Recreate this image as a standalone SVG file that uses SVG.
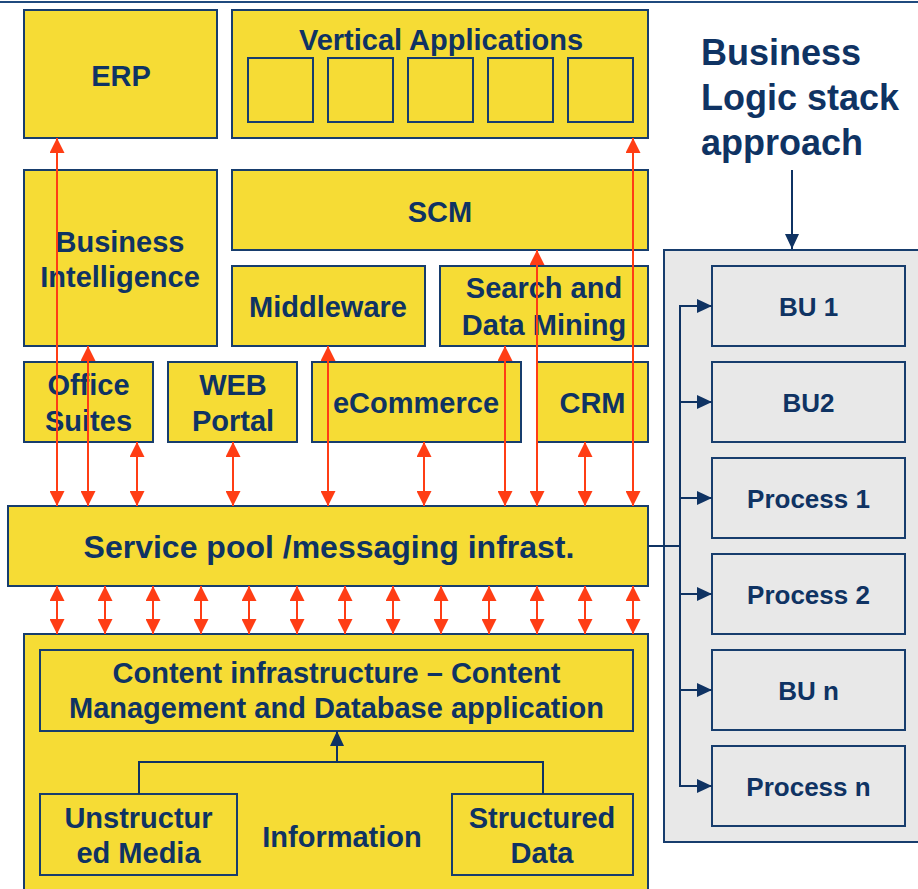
<svg xmlns="http://www.w3.org/2000/svg" width="918" height="889" viewBox="0 0 918 889">
<style>
.box{fill:#F6DC35;stroke:#173D6D;stroke-width:2}
.gbox{fill:#E8E8E8;stroke:#173D6D;stroke-width:2}
.t{font-family:"Liberation Sans",Arial,sans-serif;font-weight:bold;fill:#0F3363;text-anchor:middle;font-size:29px}
.ts{font-size:32px}
.tr{font-size:26px}
.tb{text-anchor:start;font-size:36px}
.red{stroke:#FF3D14;stroke-width:2;fill:none;marker-start:url(#ra);marker-end:url(#ra)}
.nav{stroke:#0F3363;stroke-width:2;fill:none}
</style>
<defs>
<marker id="ra" viewBox="0 0 15 15" refX="15" refY="7.5" markerWidth="15" markerHeight="15" markerUnits="userSpaceOnUse" orient="auto-start-reverse"><path d="M0,0 L15,7.5 L0,15 z" fill="#FF3D14"/></marker>
<marker id="na" viewBox="0 0 15 14" refX="15" refY="7" markerWidth="15" markerHeight="14" markerUnits="userSpaceOnUse" orient="auto"><path d="M0,0 L15,7 L0,14 z" fill="#0F3363"/></marker>
</defs>
<line x1="0" y1="2" x2="918" y2="2" stroke="#1F4A7E" stroke-width="2"/>

<g id="erp"><rect class="box" x="24" y="10" width="193" height="128"/><text class="t" x="121" y="86">ERP</text></g>
<g id="vertical-applications"><rect class="box" x="232" y="10" width="416" height="128"/>
<rect class="box" x="248" y="58" width="65" height="64"/><rect class="box" x="328" y="58" width="65" height="64"/><rect class="box" x="408" y="58" width="65" height="64"/><rect class="box" x="488" y="58" width="65" height="64"/><rect class="box" x="568" y="58" width="65" height="64"/>
<text class="t" x="441" y="50">Vertical Applications</text></g>
<g id="business-intelligence"><rect class="box" x="24" y="170" width="193" height="176"/><text class="t" x="120" y="252">Business</text><text class="t" x="120" y="287">Intelligence</text></g>
<g id="scm"><rect class="box" x="232" y="170" width="416" height="80"/><text class="t" x="440" y="222">SCM</text></g>
<g id="middleware"><rect class="box" x="232" y="266" width="193" height="80"/><text class="t" x="328" y="317">Middleware</text></g>
<g id="search"><rect class="box" x="440" y="266" width="208" height="80"/><text class="t" x="544" y="298">Search and</text><text class="t" x="544" y="335">Data Mining</text></g>
<g id="office"><rect class="box" x="24" y="362" width="129" height="80"/><text class="t" x="88.5" y="395">Office</text><text class="t" x="88.5" y="431">Suites</text></g>
<g id="web"><rect class="box" x="168" y="362" width="129" height="80"/><text class="t" x="233" y="395">WEB</text><text class="t" x="233" y="431">Portal</text></g>
<g id="ecommerce"><rect class="box" x="312" y="362" width="209" height="80"/><text class="t" x="416" y="413">eCommerce</text></g>
<g id="crm"><rect class="box" x="537" y="362" width="111" height="80"/><text class="t" x="592.5" y="413">CRM</text></g>
<g id="service-pool"><rect class="box" x="8" y="506" width="640" height="80"/><text class="t ts" x="329" y="558">Service pool /messaging infrast.</text></g>
<g id="content-layer"><rect class="box" x="24" y="634" width="624" height="270"/>
<text class="t" x="342" y="847">Information</text></g>
<g id="content-infrastructure"><rect class="box" x="40" y="650" width="593" height="81"/><text class="t" x="336.5" y="683">Content infrastructure – Content</text><text class="t" x="336.5" y="718">Management and Database application</text></g>
<g id="unstructured"><rect class="box" x="40" y="794" width="197" height="81"/><text class="t" x="138.5" y="828">Unstructur</text><text class="t" x="138.5" y="863">ed Media</text></g>
<g id="structured"><rect class="box" x="452" y="794" width="181" height="81"/><text class="t" x="542" y="828">Structured</text><text class="t" x="542" y="863">Data</text></g>

<g id="business-logic-title"><text class="t tb" x="701" y="65">Business</text><text class="t tb" x="701" y="110">Logic stack</text><text class="t tb" x="701" y="155">approach</text></g>
<g id="business-logic-panel"><rect class="gbox" x="664" y="250" width="270" height="592"/></g>
<g id="bu1"><rect class="gbox" x="712" y="266" width="193" height="80"/><text class="t tr" x="808.5" y="315.5">BU 1</text></g>
<g id="bu2"><rect class="gbox" x="712" y="362" width="193" height="80"/><text class="t tr" x="808.5" y="411.5">BU2</text></g>
<g id="process1"><rect class="gbox" x="712" y="458" width="193" height="80"/><text class="t tr" x="808.5" y="507.5">Process 1</text></g>
<g id="process2"><rect class="gbox" x="712" y="554" width="193" height="80"/><text class="t tr" x="808.5" y="603.5">Process 2</text></g>
<g id="bun"><rect class="gbox" x="712" y="650" width="193" height="80"/><text class="t tr" x="808.5" y="699.5">BU n</text></g>
<g id="processn"><rect class="gbox" x="712" y="746" width="193" height="80"/><text class="t tr" x="808.5" y="795.5">Process n</text></g>

<g id="connectors">
<line class="red" x1="57" y1="138" x2="57" y2="506"/>
<line class="red" x1="88" y1="346" x2="88" y2="506"/>
<line class="red" x1="137" y1="442" x2="137" y2="506"/>
<line class="red" x1="233" y1="442" x2="233" y2="506"/>
<line class="red" x1="328" y1="346" x2="328" y2="506"/>
<line class="red" x1="424" y1="442" x2="424" y2="506"/>
<line class="red" x1="505" y1="346" x2="505" y2="506"/>
<line class="red" x1="537" y1="250" x2="537" y2="506"/>
<line class="red" x1="585" y1="442" x2="585" y2="506"/>
<line class="red" x1="633" y1="138" x2="633" y2="506"/>
<line class="red" x1="57" y1="586" x2="57" y2="634"/>
<line class="red" x1="105" y1="586" x2="105" y2="634"/>
<line class="red" x1="153" y1="586" x2="153" y2="634"/>
<line class="red" x1="201" y1="586" x2="201" y2="634"/>
<line class="red" x1="249" y1="586" x2="249" y2="634"/>
<line class="red" x1="297" y1="586" x2="297" y2="634"/>
<line class="red" x1="345" y1="586" x2="345" y2="634"/>
<line class="red" x1="393" y1="586" x2="393" y2="634"/>
<line class="red" x1="441" y1="586" x2="441" y2="634"/>
<line class="red" x1="489" y1="586" x2="489" y2="634"/>
<line class="red" x1="537" y1="586" x2="537" y2="634"/>
<line class="red" x1="585" y1="586" x2="585" y2="634"/>
<line class="red" x1="633" y1="586" x2="633" y2="634"/>
<path class="nav" d="M139,794 V762 H543 V794"/>
<line class="nav" x1="337" y1="762" x2="337" y2="731" marker-end="url(#na)"/>
<line class="nav" x1="792" y1="170" x2="792" y2="249" stroke-width="1.8" marker-end="url(#na)"/>
<line class="nav" x1="648" y1="546" x2="681" y2="546" stroke-width="2.5"/>
<line class="nav" x1="680" y1="305" x2="680" y2="787"/>
<line class="nav" x1="679" y1="306" x2="712" y2="306" marker-end="url(#na)"/>
<line class="nav" x1="679" y1="402" x2="712" y2="402" marker-end="url(#na)"/>
<line class="nav" x1="679" y1="498" x2="712" y2="498" marker-end="url(#na)"/>
<line class="nav" x1="679" y1="594" x2="712" y2="594" marker-end="url(#na)"/>
<line class="nav" x1="679" y1="690" x2="712" y2="690" marker-end="url(#na)"/>
<line class="nav" x1="679" y1="786" x2="712" y2="786" marker-end="url(#na)"/>
</g>
</svg>
